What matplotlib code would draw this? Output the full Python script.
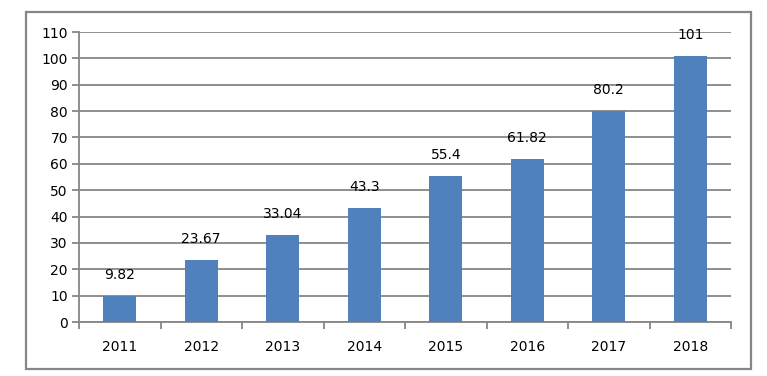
import numpy as np
import matplotlib.pyplot as plt
from matplotlib.patches import Rectangle

years = ['2011', '2012', '2013', '2014', '2015', '2016', '2017', '2018']
values = [9.82, 23.67, 33.04, 43.3, 55.4, 61.82, 80.2, 101]
value_labels = ['9.82', '23.67', '33.04', '43.3', '55.4', '61.82', '80.2', '101']

grey = '#868686'
fig = plt.figure(figsize=(7.67, 3.76), dpi=100)
# chart frame
fig.patches.append(Rectangle((26 / 767, 1 - 369 / 376), 725 / 767, 357 / 376,
                             transform=fig.transFigure, fill=False,
                             edgecolor=grey, linewidth=1.6))
ax = fig.add_axes([79 / 767, 1 - 322 / 376, 652 / 767, 290 / 376])

x = np.arange(len(years))
ax.bar(x, values, width=0.405, color='#4F81BD', zorder=3)
for xi, v, lab in zip(x, values, value_labels):
    ax.annotate(lab, (xi, v), xytext=(0, 10), textcoords='offset points',
                ha='center', va='bottom', fontsize=10, color='black', zorder=4)

ax.set_xlim(-0.5, len(years) - 0.5)
ax.set_ylim(0, 110)
ax.set_yticks(np.arange(0, 111, 10))
ax.yaxis.grid(True, color=grey, linewidth=1.3, zorder=0)
ax.set_xticks(x)
ax.set_xticklabels(years)
ax.set_xticks(np.arange(-0.5, len(years)), minor=True)
ax.tick_params(axis='x', which='major', length=0, pad=13, labelsize=10)
ax.tick_params(axis='x', which='minor', length=5, width=1.3, color=grey, direction='out')
ax.tick_params(axis='y', length=5, width=1.3, color=grey, pad=3, labelsize=10)

for s in ['top', 'right']:
    ax.spines[s].set_visible(False)
for s in ['left', 'bottom']:
    ax.spines[s].set_color(grey)
    ax.spines[s].set_linewidth(1.3)

fig.savefig('out.png', dpi=100)
